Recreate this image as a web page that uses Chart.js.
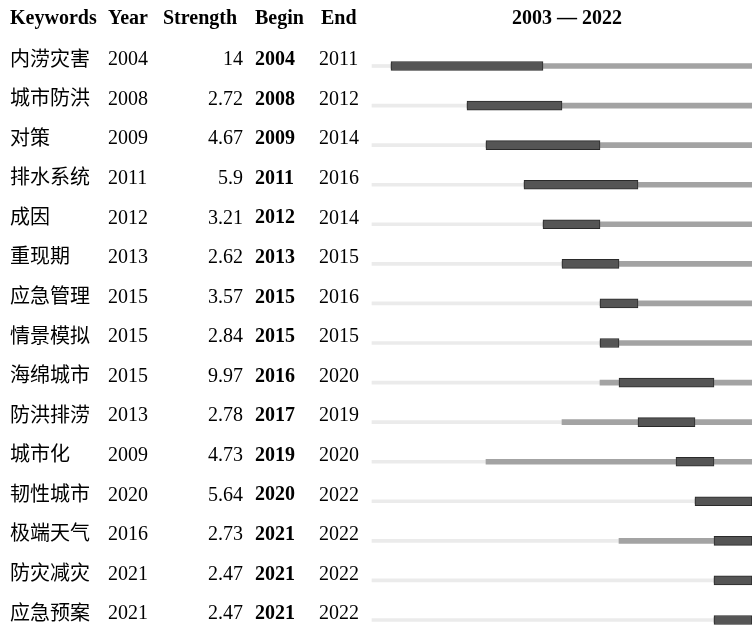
<!DOCTYPE html>
<html>
<head>
<meta charset="utf-8">
<script src="https://cdn.jsdelivr.net/npm/chart.js@4"></script>
<style>
  html, body { margin: 0; padding: 0; background: #fff; overflow: hidden; }
</style>
</head>
<body>
<canvas id="myChart" width="752" height="626"></canvas>
<script>
var keywords = ['内涝灾害', '城市防洪', '对策', '排水系统', '成因', '重现期', '应急管理', '情景模拟', '海绵城市', '防洪排涝', '城市化', '韧性城市', '极端天气', '防灾减灾', '应急预案']
var years = [2004, 2008, 2009, 2011, 2012, 2013, 2015, 2015, 2015, 2013, 2009, 2020, 2016, 2021, 2021]
var strengths = [14, 2.72, 4.67, 5.9, 3.21, 2.62, 3.57, 2.84, 9.97, 2.78, 4.73, 5.64, 2.73, 2.47, 2.47]
var begins = [2004, 2008, 2009, 2011, 2012, 2013, 2015, 2015, 2016, 2017, 2019, 2020, 2021, 2021, 2021]
var ends = [2011, 2012, 2014, 2016, 2014, 2015, 2016, 2015, 2020, 2019, 2020, 2022, 2022, 2022, 2022]
var firstYear = 2003
var lastYear = 2022

// bars: before first appearance, after it, and the burst itself
var before = years.map(function(y){ return [firstYear, y] })
var after = years.map(function(y){ return [y, lastYear + 1] })
var burst = begins.map(function(b, i){ return [b, ends[i] + 1] })

var serif = '"Liberation Serif", "Times New Roman", serif'

var tablePlugin = {
  id: 'table',
  afterDraw: function(chart) {
    var ctx = chart.ctx
    var ys = chart.scales.y
    ctx.save()
    ctx.fillStyle = '#000'
    ctx.textBaseline = 'middle'

    // header
    ctx.font = 'bold 20px ' + serif
    ctx.textAlign = 'left'
    ctx.fillText('Keywords', 10, 19)
    ctx.fillText('Year', 108, 19)
    ctx.fillText('Strength', 163, 19)
    ctx.fillText('Begin', 255, 19)
    ctx.fillText('End', 321, 19)
    ctx.textAlign = 'center'
    ctx.fillText(firstYear + ' \u2014 ' + lastYear, 567, 19)

    keywords.forEach(function(k, i){
      var y = ys.getPixelForValue(i) - 7
      ctx.textAlign = 'left'
      ctx.font = '20px "Noto Sans CJK SC", sans-serif'
      ctx.fillText(k, 10, y - 1)
      ctx.font = '20px ' + serif
      ctx.fillText(String(years[i]), 108, y + 1)
      ctx.fillText(String(ends[i]), 319, y + 1)
      ctx.textAlign = 'right'
      ctx.fillText(String(strengths[i]), 243, y + 1)
      ctx.textAlign = 'left'
      ctx.font = 'bold 20px ' + serif
      ctx.fillText(String(begins[i]), 255, y + 1)
    })
    ctx.restore()
  }
}

var ctx = document.getElementById('myChart').getContext('2d')
var chart = new Chart(ctx, {
  type: 'bar',
  data: {
    labels: keywords,
    datasets: [{
      label: 'burst',
      data: burst,
      backgroundColor: '#555555',
      borderColor: '#2a2a2a',
      borderWidth: 1,
      borderSkipped: false,
      barThickness: 9,
      order: 0,
      clip: false
    }, {
      label: 'after',
      data: after,
      backgroundColor: '#a3a3a3',
      borderWidth: 0,
      barThickness: 5,
      order: 1,
      clip: false
    }, {
      label: 'before',
      data: before,
      backgroundColor: '#ebebeb',
      borderWidth: 0,
      barThickness: 3,
      order: 2,
      clip: false
    }]
  },
  options: {
    indexAxis: 'y',
    responsive: false,
    animation: false,
    devicePixelRatio: 1,
    layout: { padding: { left: 372, right: 0, top: 66, bottom: 6 } },
    scales: {
      x: { type: 'linear', min: firstYear, max: lastYear + 1, display: false, stacked: false },
      y: { type: 'category', offset: false, display: false, stacked: true }
    },
    plugins: {
      legend: { display: false },
      tooltip: { enabled: false }
    }
  },
  plugins: [tablePlugin]
})
</script>
</body>
</html>
